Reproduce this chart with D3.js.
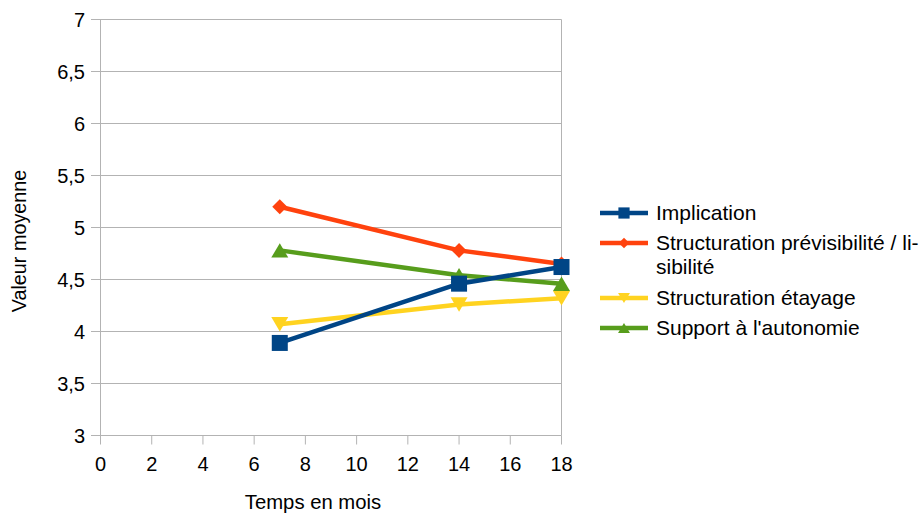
<!DOCTYPE html>
<html><head><meta charset="utf-8">
<script src="https://cdn.jsdelivr.net/npm/d3@7"></script>
<style>body{margin:0;background:#fff}svg{display:block}text{font-family:"Liberation Sans",Arial,sans-serif;fill:#000}</style>
</head><body><svg id="c" width="920" height="513"></svg>
<script>
const months = [7, 14, 18];
const implication = [3.89, 4.46, 4.62];
const previsibilite = [5.20, 4.78, 4.65];
const etayage = [4.07, 4.26, 4.32];
const autonomie = [4.78, 4.54, 4.46];
const seriesNames = ["Implication", "Structuration prévisibilité / li-|sibilité", "Structuration étayage", "Support à l'autonomie"];
const xTicks = [0,2,4,6,8,10,12,14,16,18];
const yTicks = [3,3.5,4,4.5,5,5.5,6,6.5,7];

const series = [
  {name: seriesNames[0], values: implication, color: "#004586", sym: "square"},
  {name: seriesNames[1], values: previsibilite, color: "#ff420e", sym: "diamond"},
  {name: seriesNames[2], values: etayage, color: "#ffd320", sym: "down"},
  {name: seriesNames[3], values: autonomie, color: "#579d1c", sym: "up"}
];

const svg = d3.select("#c");
const x = d3.scaleLinear().domain([0,18]).range([100.5, 561.5]);
const y = d3.scaleLinear().domain([3,7]).range([435.5, 19.5]);
const fmt = d => String(d).replace(".", ",");
const grid = "#b3b3b3";

svg.append("g").selectAll("line").data(yTicks).join("line")
  .attr("x1", 91).attr("x2", 561.5).attr("y1", d=>y(d)).attr("y2", d=>y(d))
  .attr("stroke", grid).attr("stroke-width", 1);
svg.append("line").attr("x1",561.5).attr("x2",561.5).attr("y1",y(7)).attr("y2",y(3)).attr("stroke",grid);
svg.append("line").attr("x1",100.5).attr("x2",100.5).attr("y1",y(7)).attr("y2",y(3)).attr("stroke",grid);
svg.append("g").selectAll("line").data(xTicks).join("line")
  .attr("x1", d=>x(d)).attr("x2", d=>x(d)).attr("y1", y(3)).attr("y2", y(3)+9)
  .attr("stroke", grid);
svg.append("g").selectAll("text").data(yTicks).join("text")
  .attr("x", 85).attr("y", d=>y(d)).attr("dy","0.35em").attr("text-anchor","end")
  .attr("font-size", 20).text(fmt);
svg.append("g").selectAll("text").data(xTicks).join("text")
  .attr("x", d=>x(d)).attr("y", 471).attr("text-anchor","middle")
  .attr("font-size", 20).text(fmt);
svg.append("text").attr("x", 313).attr("y", 509).attr("text-anchor","middle").attr("font-size",20.3).text("Temps en mois");
svg.append("text").attr("transform","translate(26,241) rotate(-90)").attr("text-anchor","middle").attr("font-size",19.8).text("Valeur moyenne");

function symbol(g, sym, cx, cy, color, s) {
  let sz = s || 1;
  if (sym === "square") {
    g.append("rect").attr("x", cx-8*sz).attr("y", cy-8*sz).attr("width", 16*sz).attr("height", 16*sz).attr("fill", color);
  } else if (sym === "diamond") {
    const r = 7.5*sz;
    g.append("path").attr("d", `M${cx},${cy-r}L${cx+r},${cy}L${cx},${cy+r}L${cx-r},${cy}Z`).attr("fill", color);
  } else if (sym === "down") {
    const r = 8.5*sz;
    g.append("path").attr("d", `M${cx-r},${cy-r*0.85}L${cx+r},${cy-r*0.85}L${cx},${cy+r*0.85}Z`).attr("fill", color);
  } else {
    const r = 8.5*sz;
    g.append("path").attr("d", `M${cx-r},${cy+r*0.85}L${cx+r},${cy+r*0.85}L${cx},${cy-r*0.85}Z`).attr("fill", color);
  }
}

const line = d3.line().x(d=>x(d[0])).y(d=>y(d[1]));
const drawOrder = [3,2,1,0];
drawOrder.forEach(i => {
  const s = series[i];
  const pts = months.map((m,j)=>[m, s.values[j]]);
  const g = svg.append("g");
  g.append("path").attr("d", line(pts)).attr("fill","none").attr("stroke", s.color).attr("stroke-width", 4.5).attr("stroke-linejoin","round");
  pts.forEach(p => symbol(g, s.sym, x(p[0]), y(p[1]), s.color));
});

const legY = [213, 243, 298, 328];
series.forEach((s,i) => {
  const g = svg.append("g");
  g.append("line").attr("x1", 600).attr("x2", 648).attr("y1", legY[i]).attr("y2", legY[i]).attr("stroke", s.color).attr("stroke-width", 4.5);
  symbol(g, s.sym, 624, legY[i], s.color, 0.7);
  const parts = s.name.split("|");
  parts.forEach((p, k) => {
    g.append("text").attr("x", 656).attr("y", legY[i] + k*24).attr("dy","0.35em").attr("font-size", 21).text(p);
  });
});
</script></body></html>
